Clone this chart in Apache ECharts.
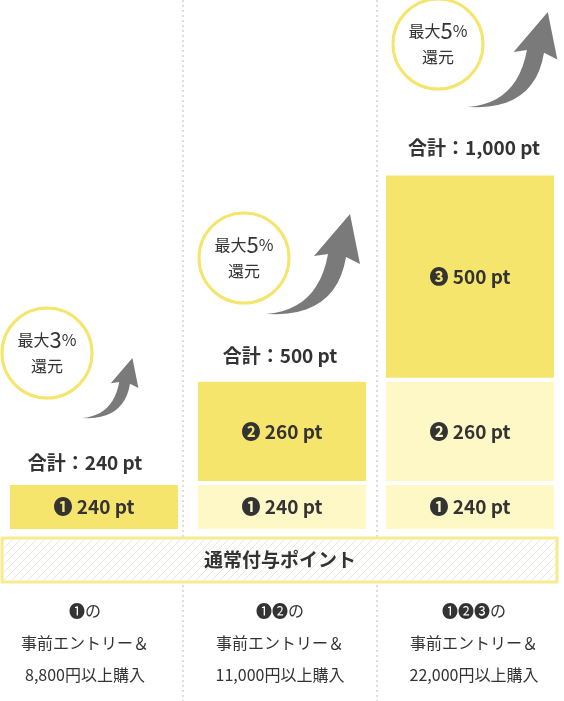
<!DOCTYPE html>
<html><head><meta charset="utf-8">
<script src="https://cdn.jsdelivr.net/npm/echarts@6/dist/echarts.min.js"></script>
<style>html,body{margin:0;padding:0;background:#fff}#c{width:564px;height:701px}</style>
</head><body><div id="c"></div>
<script>
var FONT = '"Noto Sans CJK JP", sans-serif';
var categories = ['c1', 'c2', 'c3'];
// relative display heights of each stacked block
var seg1Units = [1, 1, 1];
var seg2Units = [0, 2.15, 2.15];
var seg3Units = [0, 0, 4.3];
var seg1Labels = ['❶ 240 pt', '❶ 240 pt', '❶ 240 pt'];
var seg2Labels = ['', '❷ 260 pt', '❷ 260 pt'];
var seg3Labels = ['', '', '❸ 500 pt'];
var totals = ['合計：240 pt', '合計：500 pt', '合計：1,000 pt'];
var rates = ['最大{b|3}%\n還元', '最大{b|5}%\n還元', '最大{b|5}%\n還元'];
var conditions = ['❶の\n事前エントリー＆\n8,800円以上購入', '❶❷の\n事前エントリー＆\n11,000円以上購入', '❶❷❸の\n事前エントリー＆\n22,000円以上購入'];

var STRONG = '#f6e56c', LIGHT = '#fdf8c6';
var seg1Colors = [STRONG, LIGHT, LIGHT];
var seg2Colors = [STRONG, STRONG, LIGHT];

var chart = echarts.init(document.getElementById('c'));

// hatch pattern for band
var pc = document.createElement('canvas');
pc.width = 8; pc.height = 8;
var ctx = pc.getContext('2d');
ctx.fillStyle = '#ffffff'; ctx.fillRect(0, 0, 8, 8);
ctx.strokeStyle = '#ece9dc'; ctx.lineWidth = 1;
ctx.beginPath(); ctx.moveTo(0, 8); ctx.lineTo(8, 0); ctx.moveTo(-2, 2); ctx.lineTo(2, -2); ctx.moveTo(6, 10); ctx.lineTo(10, 6); ctx.stroke();

function mkData(units, labels, colors) {
  return units.map(function (u, i) {
    return { value: u, label: { formatter: labels[i] }, itemStyle: { color: colors ? colors[i] : STRONG } };
  });
}
var segLabel = { show: true, position: 'inside', fontFamily: FONT, fontSize: 19, fontWeight: 'bold', color: '#333' };
var segStyle = { borderColor: '#fff', borderWidth: 2 };

function quad(p0, c, p1, n) {
  var pts = [];
  for (var k = 0; k <= n; k++) {
    var t = k / n, u = 1 - t;
    pts.push([u * u * p0[0] + 2 * u * t * c[0] + t * t * p1[0], u * u * p0[1] + 2 * u * t * c[1] + t * t * p1[1]]);
  }
  return pts;
}
function arrow(x, y, s) {
  var pts = quad([0, 100], [52, 96], [62, 40], 12)
    .concat([[48, 42], [84, 0], [94, 50], [80, 43]])
    .concat(quad([80, 43], [70, 104], [0, 100], 12));
  pts = pts.map(function (p) { return [x + p[0] * s, y + p[1] * s]; });
  return { type: 'polygon', shape: { points: pts }, style: { fill: '#7a7a7a' } };
}
function circle(cx, cy, r, txt, fs) {
  return [
    { type: 'circle', shape: { cx: cx, cy: cy, r: r }, style: { fill: '#fff', stroke: '#f6e56c', lineWidth: 3 } },
    { type: 'text', x: cx, y: cy, style: { text: txt, align: 'center', verticalAlign: 'middle', fontFamily: FONT, fontSize: 16, lineHeight: 26, fill: '#333',
      rich: { b: { fontSize: fs, fontFamily: FONT, fill: '#333' } } } }
  ];
}

var colX = [85, 280, 474];
var graphics = [
  { type: 'line', shape: { x1: 183, y1: 0, x2: 183, y2: 701 }, style: { stroke: '#bbb', lineDash: [2, 3], lineWidth: 1 } },
  { type: 'line', shape: { x1: 377, y1: 0, x2: 377, y2: 701 }, style: { stroke: '#bbb', lineDash: [2, 3], lineWidth: 1 } },
  { type: 'rect', shape: { x: 2, y: 538, width: 555, height: 44 }, style: { fill: { image: pc, repeat: 'repeat' }, stroke: '#f6ec8f', lineWidth: 3 } },
  { type: 'text', x: 280, y: 560, style: { text: '通常付与ポイント', align: 'center', verticalAlign: 'middle', fontFamily: FONT, fontSize: 19, fontWeight: 'bold', fill: '#333' } },
  arrow(82, 358, 0.6), arrow(266, 214, 1.0), arrow(468, 12, 0.95)
];
graphics = graphics.concat(circle(47, 353, 45, rates[0], 22), circle(244, 258, 45, rates[1], 22), circle(438, 44, 45, rates[2], 22));
var totalY = [463, 356, 148];
for (var i = 0; i < 3; i++) {
  graphics.push({ type: 'text', x: colX[i], y: totalY[i], style: { text: totals[i], align: 'center', verticalAlign: 'middle', fontFamily: FONT, fontSize: 19, fontWeight: 'bold', fill: '#333' } });
  graphics.push({ type: 'text', x: colX[i], y: 643, style: { text: conditions[i], align: 'center', verticalAlign: 'middle', fontFamily: FONT, fontSize: 16, lineHeight: 32, fill: '#333' } });
}

chart.setOption({
  animation: false,
  grid: { left: -4, right: -2, top: 51, bottom: 170 },
  xAxis: { type: 'category', data: categories, show: false },
  yAxis: { type: 'value', min: 0, max: 10, show: false },
  series: [
    { type: 'bar', stack: 's', barWidth: 172, data: mkData(seg1Units, seg1Labels, seg1Colors), label: segLabel, itemStyle: segStyle },
    { type: 'bar', stack: 's', data: mkData(seg2Units, seg2Labels, seg2Colors), label: segLabel, itemStyle: segStyle },
    { type: 'bar', stack: 's', data: mkData(seg3Units, seg3Labels), label: segLabel, itemStyle: segStyle }
  ],
  graphic: graphics
});
</script></body></html>
